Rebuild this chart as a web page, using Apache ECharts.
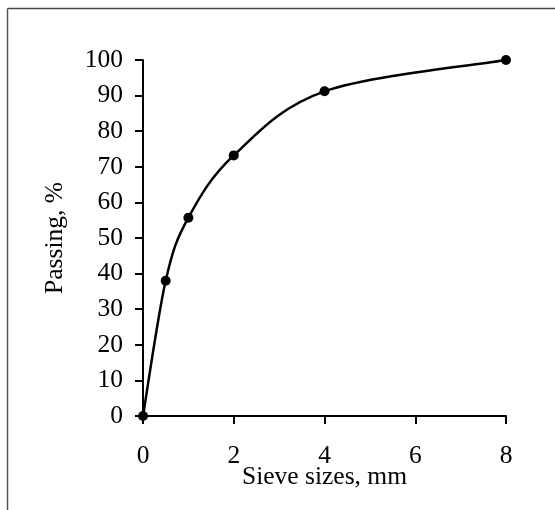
<!DOCTYPE html>
<html>
<head>
<meta charset="utf-8">
<script src="https://cdn.jsdelivr.net/npm/echarts@6/dist/echarts.min.js"></script>
<style>html,body{margin:0;padding:0;background:#fff;}#c{width:555px;height:510px;}</style>
</head>
<body>
<div id="c"></div>
<script>
var sieveSizes = [0, 0.5, 1, 2, 4, 8];
var passing = [0, 38, 55.7, 73.2, 91.2, 100];
var xTicks = [0, 2, 4, 6, 8];
var yTicks = [0, 10, 20, 30, 40, 50, 60, 70, 80, 90, 100];
var xTitle = 'Sieve sizes, mm';
var yTitle = 'Passing, %';

var font = '"Liberation Serif", "Times New Roman", serif';
var points = sieveSizes.map(function (x, i) { return [x, passing[i]]; });

function renderCurve(params, api) {
  if (params.dataIndex !== 0) return null;
  var p = points.map(function (d) { return api.coord(d); });
  var n = p.length;
  var d = 'M' + p[0][0] + ' ' + p[0][1];
  for (var i = 0; i < n - 1; i++) {
    var p0 = p[Math.max(i - 1, 0)], p1 = p[i], p2 = p[i + 1], p3 = p[Math.min(i + 2, n - 1)];
    var c1x = p1[0] + (p2[0] - p0[0]) / 6, c1y = p1[1] + (p2[1] - p0[1]) / 6;
    var c2x = p2[0] - (p3[0] - p1[0]) / 6, c2y = p2[1] - (p3[1] - p1[1]) / 6;
    d += ' C' + c1x + ' ' + c1y + ' ' + c2x + ' ' + c2y + ' ' + p2[0] + ' ' + p2[1];
  }
  return {
    type: 'path',
    shape: {pathData: d},
    style: {fill: null, stroke: '#000', lineWidth: 2.5}
  };
}

var chart = echarts.init(document.getElementById('c'), null, {renderer: 'canvas'});
chart.setOption({
  animation: false,
  backgroundColor: '#fff',
  graphic: [
    {type: 'line', shape: {x1: 7.5, y1: 8.5, x2: 555, y2: 8.5}, style: {stroke: '#444', lineWidth: 1.5}, silent: true},
    {type: 'line', shape: {x1: 7.5, y1: 8.5, x2: 7.5, y2: 510}, style: {stroke: '#555', lineWidth: 1.5}, silent: true}
  ],
  grid: {left: 143, right: 49, top: 60, bottom: 94},
  xAxis: {
    type: 'value', min: xTicks[0], max: xTicks[xTicks.length - 1], interval: 2,
    name: xTitle, nameLocation: 'middle', nameGap: 48, nameMoveOverlap: false,
    nameTextStyle: {fontFamily: font, fontSize: 25.5, color: '#000'},
    axisLine: {show: true, onZero: false, lineStyle: {color: '#000', width: 2}},
    axisTick: {show: true, inside: false, length: 8, lineStyle: {color: '#000', width: 2}},
    axisLabel: {fontFamily: font, fontSize: 25.5, color: '#000', margin: 27},
    splitLine: {show: false}
  },
  yAxis: {
    type: 'value', min: yTicks[0], max: yTicks[yTicks.length - 1], interval: 10,
    name: yTitle, nameLocation: 'middle', nameGap: 75, nameRotate: 90, nameMoveOverlap: false,
    nameTextStyle: {fontFamily: font, fontSize: 25.5, color: '#000'},
    axisLine: {show: true, lineStyle: {color: '#000', width: 2}},
    axisTick: {show: true, inside: false, length: 8, lineStyle: {color: '#000', width: 2}},
    axisLabel: {fontFamily: font, fontSize: 25.5, color: '#000', margin: 20},
    splitLine: {show: false}
  },
  series: [{
    type: 'custom',
    renderItem: renderCurve,
    data: points,
    clip: false,
    silent: true
  }, {
    type: 'scatter',
    data: points,
    symbol: 'circle', symbolSize: 10,
    itemStyle: {color: '#000', opacity: 1},
    clip: false
  }]
});
</script>
</body>
</html>
